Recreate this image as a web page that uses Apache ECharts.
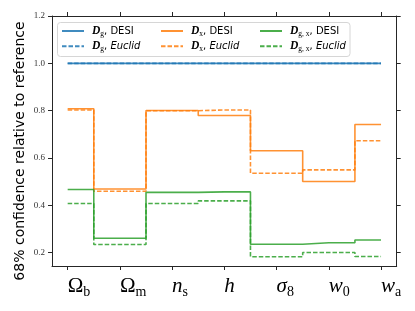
<!DOCTYPE html>
<html>
<head>
<meta charset="utf-8">
<script src="https://cdn.jsdelivr.net/npm/echarts@6/dist/echarts.min.js"></script>
<style>html,body{margin:0;padding:0;background:#fff;}#c{width:415px;height:311px;}</style>
</head>
<body>
<div id="c"></div>
<script>
// ---- data ----
var paramMain = ['Ω', 'Ω', 'n', 'h', 'σ', 'w', 'w'];
var paramSub = ['b', 'm', 's', '', '8', '0', 'a'];
var paramItalic = [false, false, true, true, true, true, true];
var yTicks = [0.2, 0.4, 0.6, 0.8, 1.0, 1.2];
var xTicks = [0, 1, 2, 3, 4, 5, 6];

var Dg_DESI    = [1.0, 1.0, 1.0, 1.0, 1.0, 1.0, 1.0];
var Dg_Euclid  = [1.0, 1.0, 1.0, 1.0, 1.0, 1.0, 1.0];
var Dx_DESI    = [0.808, 0.469, 0.801, 0.780, 0.631, 0.501, 0.742];
var Dx_Euclid  = [0.803, 0.460, 0.800, 0.803, 0.536, 0.550, 0.673];
var Dgx_DESI   = [0.467, 0.261, 0.455, 0.457, 0.236, 0.242, 0.254];
var Dgx_Euclid = [0.408, 0.235, 0.408, 0.419, 0.183, 0.201, 0.184];

var seriesNames = ['Dg_DESI', 'Dg_Euclid', 'Dx_DESI', 'Dx_Euclid', 'Dgx_DESI', 'Dgx_Euclid'];
var seriesValues = [Dg_DESI, Dg_Euclid, Dx_DESI, Dx_Euclid, Dgx_DESI, Dgx_Euclid];
var seriesSubs = ['g', 'g', 'x', 'x', 'g, x', 'g, x'];
var seriesSurvey = ['DESI', 'Euclid', 'DESI', 'Euclid', 'DESI', 'Euclid'];
// ---- style ----
var colors = ['#1f77b4', '#1f77b4', '#ff7f0e', '#ff7f0e', '#2ca02c', '#2ca02c'];

var chart = echarts.init(document.getElementById('c'), null, {renderer: 'canvas'});

var axisColor = '#262626';
var tickStyle = {color: axisColor, width: 1};

function legendFmt(name) {
  var i = seriesNames.indexOf(name);
  var s = '{pad|}{D|D}{s|' + seriesSubs[i] + '}{t|, }';
  if (seriesSurvey[i] === 'Euclid') s += '{e|Euclid}'; else s += '{t|DESI}';
  return s;
}
var legendRich = {
  pad: {width: 3, lineHeight: 14},
  D: {fontFamily: 'Liberation Serif', fontStyle: 'italic', fontWeight: 'bold', fontSize: 11.5, lineHeight: 14, color: '#000'},
  s: {fontFamily: 'Liberation Serif', fontSize: 7.5, lineHeight: 10, verticalAlign: 'bottom', color: '#000'},
  t: {fontFamily: 'DejaVu Sans', fontSize: 10, lineHeight: 14, color: '#000'},
  e: {fontFamily: 'DejaVu Sans', fontStyle: 'italic', fontSize: 10, lineHeight: 14, color: '#000'}
};
function makeLegend(left, names) {
  return {
    left: left, top: 25, orient: 'vertical', itemWidth: 22, itemHeight: 12, itemGap: 2.3,
    padding: 0, z: 4, data: names, formatter: legendFmt,
    itemStyle: {opacity: 0, borderWidth: 0},
    textStyle: {rich: legendRich}, selectedMode: false
  };
}

var series = seriesNames.map(function (n, k) {
  return {
    name: n, type: 'line', step: 'middle', symbol: 'none', showSymbol: false,
    xAxisIndex: 0, yAxisIndex: 0,
    data: seriesValues[k].map(function (v, i) { return [xTicks[i], v]; }),
    lineStyle: {color: colors[k], width: 1.6, opacity: 0.85, type: seriesSurvey[k] === 'Euclid' ? [4.5, 2] : 'solid'},
    itemStyle: {color: colors[k]},
    emphasis: {disabled: true}
  };
});

var option = {
  animation: false,
  backgroundColor: '#fff',
  grid: {left: 52, right: 18.3, top: 16, bottom: 45, containLabel: false},
  legend: [
    makeLegend(61, ['Dg_DESI', 'Dg_Euclid']),
    makeLegend(160, ['Dx_DESI', 'Dx_Euclid']),
    makeLegend(259, ['Dgx_DESI', 'Dgx_Euclid'])
  ],
  xAxis: [
    {
      type: 'value', min: -0.3, max: 6.3, position: 'bottom',
      axisLine: {show: true, onZero: false, lineStyle: tickStyle},
      axisTick: {show: true, length: 4, customValues: xTicks, lineStyle: tickStyle},
      splitLine: {show: false},
      axisLabel: {
        customValues: xTicks, align: 'left', margin: 7,
        formatter: function (v) {
          var i = Math.round(v);
          var main = paramItalic[i] ? '{i|' + paramMain[i] + '}' : '{r|' + paramMain[i] + '}';
          return main + (paramSub[i] ? '{s|' + paramSub[i] + '}' : '');
        },
        rich: {
          r: {fontFamily: 'Liberation Serif', fontSize: 21, lineHeight: 26, color: '#000'},
          i: {fontFamily: 'Liberation Serif', fontStyle: 'italic', fontSize: 21, lineHeight: 26, color: '#000'},
          s: {fontFamily: 'Liberation Serif', fontSize: 14, lineHeight: 18, verticalAlign: 'bottom', color: '#000'}
        }
      }
    },
    {
      type: 'value', min: -0.3, max: 6.3, position: 'top',
      axisLine: {show: true, onZero: false, lineStyle: tickStyle},
      axisTick: {show: true, length: 4, customValues: xTicks, lineStyle: tickStyle},
      splitLine: {show: false},
      axisLabel: {show: false, customValues: xTicks}
    }
  ],
  yAxis: [
    {
      type: 'value', min: 0.144, max: 1.2, position: 'left',
      axisLine: {show: true, onZero: false, lineStyle: tickStyle},
      axisTick: {show: true, length: 4, customValues: yTicks, lineStyle: tickStyle},
      splitLine: {show: false},
      axisLabel: {
        customValues: yTicks, margin: 7,
        formatter: function (v) { return v.toFixed(1); },
        fontFamily: 'Liberation Serif', fontSize: 9, color: '#333'
      }
    },
    {
      type: 'value', min: 0.144, max: 1.2, position: 'right',
      axisLine: {show: true, onZero: false, lineStyle: tickStyle},
      axisTick: {show: true, length: 4, customValues: yTicks, lineStyle: tickStyle},
      splitLine: {show: false},
      axisLabel: {show: false, customValues: yTicks}
    }
  ],
  graphic: [
    {
      type: 'rect', z: 3,
      shape: {x: 57.5, y: 22.5, width: 292.5, height: 34, r: 3},
      style: {fill: 'rgba(255,255,255,0.8)', stroke: '#d6d6d6', lineWidth: 1}
    },
    {
      type: 'text', x: 20, y: 151, rotation: Math.PI / 2, z: 5,
      style: {
        text: '68% confidence relative to reference',
        fontFamily: 'DejaVu Sans', fontSize: 14, fill: '#000',
        align: 'center', verticalAlign: 'middle'
      }
    }
  ],
  series: series
};
chart.setOption(option);
</script>
</body>
</html>
